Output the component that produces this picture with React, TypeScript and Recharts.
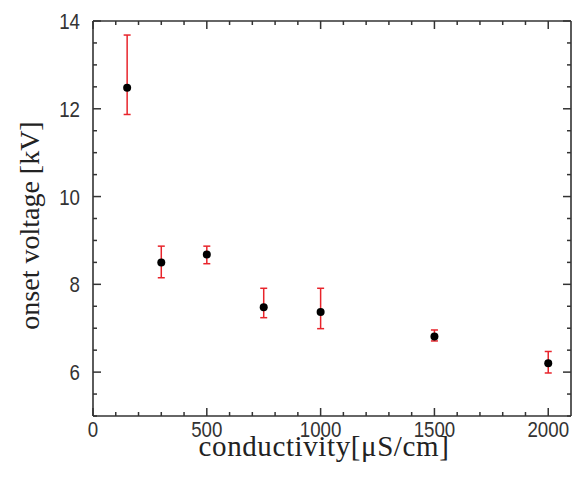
import { ScatterChart, Scatter, XAxis, YAxis, ErrorBar } from "recharts";

const conductivity = [150, 300, 500, 750, 1000, 1500, 2000];
const onsetVoltage = [12.48, 8.5, 8.68, 7.48, 7.37, 6.81, 6.2];
const errBelow = [0.61, 0.35, 0.21, 0.24, 0.38, 0.1, 0.22];
const errAbove = [1.2, 0.37, 0.19, 0.43, 0.54, 0.15, 0.27];

const xTicks = [0, 100, 200, 300, 400, 500, 600, 700, 800, 900, 1000, 1100, 1200, 1300, 1400, 1500, 1600, 1700, 1800, 1900, 2000];
const xMajor = [0, 500, 1000, 1500, 2000];
const yTicks = [5, 5.5, 6, 6.5, 7, 7.5, 8, 8.5, 9, 9.5, 10, 10.5, 11, 11.5, 12, 12.5, 13, 13.5, 14];
const yMajor = [6, 8, 10, 12, 14];

const data = conductivity.map((x, i) => ({ x, y: onsetVoltage[i], err: [errBelow[i], errAbove[i]] }));

const FRAME = "#333";
const ERR = "#e8242b";
const tickFont = { fontFamily: "'Liberation Sans', Arial, sans-serif", fontSize: 22, fill: "#333" };
const titleFont = { fontFamily: "'Liberation Serif', 'Times New Roman', serif", fill: "#222" };

type Side = "bottom" | "top" | "left" | "right";

// narrow digits: squeeze the sans font horizontally
function TickText({ x, y, anchor, value }: { x: number; y: number; anchor: "middle" | "end"; value: number }) {
  return (
    <text transform={`translate(${x},${y}) scale(0.85,1)`} x={0} y={0} textAnchor={anchor} {...tickFont}>
      {value}
    </text>
  );
}

function makeTick(side: Side, majors: number[], labels: boolean) {
  return (props: any) => {
    const { x, y, payload } = props;
    const v = payload.value;
    const major = majors.includes(v);
    const len = major ? 8 : 4;
    let line;
    if (side === "bottom") line = <line x1={x} y1={y} x2={x} y2={y - len} stroke={FRAME} strokeWidth={1.5} />;
    else if (side === "top") line = <line x1={x} y1={y} x2={x} y2={y + len} stroke={FRAME} strokeWidth={1.5} />;
    else if (side === "left") line = <line x1={x} y1={y} x2={x + len} y2={y} stroke={FRAME} strokeWidth={1.5} />;
    else line = <line x1={x} y1={y} x2={x - len} y2={y} stroke={FRAME} strokeWidth={1.5} />;
    let label = null;
    if (labels && major) {
      if (side === "bottom") label = <TickText x={x} y={y + 21} anchor="middle" value={v} />;
      if (side === "left") label = <TickText x={x - 13} y={y + 8} anchor="end" value={v} />;
    }
    return (
      <g>
        {line}
        {label}
      </g>
    );
  };
}

function XTitle(props: any) {
  const vb = props.viewBox;
  return (
    <text
      x={vb.x + vb.width / 2 - 8}
      y={vb.y + vb.height - 39}
      textAnchor="middle"
      fontSize={29}
      letterSpacing={0.6}
      {...titleFont}
    >
      conductivity[μS/cm]
    </text>
  );
}

function YTitle(props: any) {
  const vb = props.viewBox;
  const cx = vb.x + 39;
  const cy = vb.y + vb.height / 2 + 7;
  return (
    <text x={cx} y={cy} textAnchor="middle" fontSize={28} transform={`rotate(-90, ${cx}, ${cy})`} {...titleFont}>
      onset voltage [kV]
    </text>
  );
}

function Dot(props: any) {
  return <circle cx={props.cx} cy={props.cy} r={4} fill="#000" />;
}

export default function App() {
  return (
    <div style={{ position: "absolute", left: 0, top: 0, background: "#fff" }}>
      <ScatterChart width={572} height={495} margin={{ top: 20, right: 0, bottom: 0, left: 0 }}>
        <XAxis
          type="number"
          dataKey="x"
          domain={[0, 2100]}
          ticks={xTicks}
          allowDataOverflow
          height={79}
          tickSize={0}
          tickMargin={0}
          tickLine={false}
          interval={0}
          axisLine={{ stroke: FRAME, strokeWidth: 1.6 }}
          tick={makeTick("bottom", xMajor, true)}
          label={<XTitle />}
        />
        <XAxis
          xAxisId="top"
          orientation="top"
          type="number"
          dataKey="x"
          domain={[0, 2100]}
          ticks={xTicks}
          allowDataOverflow
          height={1}
          tickSize={0}
          tickMargin={0}
          tickLine={false}
          interval={0}
          axisLine={{ stroke: FRAME, strokeWidth: 1.6 }}
          tick={makeTick("top", xMajor, false)}
        />
        <YAxis
          type="number"
          dataKey="y"
          domain={[5, 14]}
          ticks={yTicks}
          allowDataOverflow
          width={93}
          tickSize={0}
          tickMargin={0}
          tickLine={false}
          interval={0}
          axisLine={{ stroke: FRAME, strokeWidth: 1.6 }}
          tick={makeTick("left", yMajor, true)}
          label={<YTitle />}
        />
        <YAxis
          yAxisId="right"
          orientation="right"
          type="number"
          dataKey="y"
          domain={[5, 14]}
          ticks={yTicks}
          allowDataOverflow
          width={1}
          tickSize={0}
          tickMargin={0}
          tickLine={false}
          interval={0}
          axisLine={{ stroke: FRAME, strokeWidth: 1.6 }}
          tick={makeTick("right", yMajor, false)}
        />
        <Scatter data={data} shape={<Dot />} isAnimationActive={false}>
          <ErrorBar dataKey="err" direction="y" width={3.5} stroke={ERR} strokeWidth={1.5} isAnimationActive={false} />
        </Scatter>
      </ScatterChart>
    </div>
  );
}
